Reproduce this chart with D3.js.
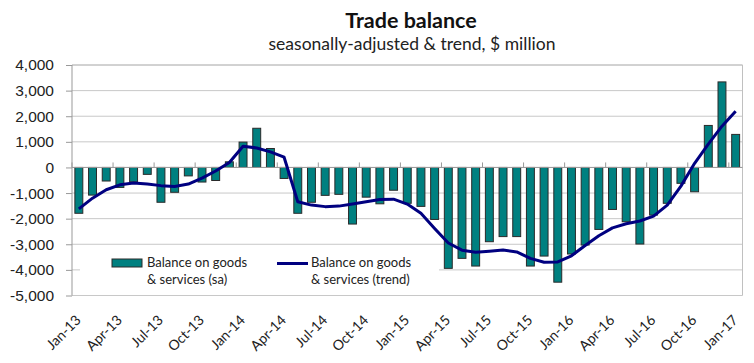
<!DOCTYPE html>
<html>
<head>
<meta charset="utf-8">
<script src="https://cdn.jsdelivr.net/npm/d3@7"></script>
<style>
  body { margin: 0; background: #fff; }
  svg { font-family: Lato, "Open Sans", sans-serif; }
  .grid line { stroke: #c8c8c8; stroke-width: 1; }
  .y-axis path { display: none; }
  .y-axis line { stroke: #999; }
  .y-axis text { font-size: 15.5px; fill: #222; }
  .x-label { font-size: 14px; fill: #222; }
  .legend text { font-size: 13px; fill: #222; }
</style>
</head>
<body>
<svg></svg>
<script>
// monthly categories, Jan-13 .. Jan-17
const months = [
  "Jan-13","Feb-13","Mar-13","Apr-13","May-13","Jun-13","Jul-13","Aug-13","Sep-13","Oct-13","Nov-13","Dec-13",
  "Jan-14","Feb-14","Mar-14","Apr-14","May-14","Jun-14","Jul-14","Aug-14","Sep-14","Oct-14","Nov-14","Dec-14",
  "Jan-15","Feb-15","Mar-15","Apr-15","May-15","Jun-15","Jul-15","Aug-15","Sep-15","Oct-15","Nov-15","Dec-15",
  "Jan-16","Feb-16","Mar-16","Apr-16","May-16","Jun-16","Jul-16","Aug-16","Sep-16","Oct-16","Nov-16","Dec-16",
  "Jan-17"
]

// balance on goods & services, seasonally adjusted ($m)
const saValues = [
  -1790, -1080, -530, -780, -560, -270, -1360, -970, -330, -570, -510, 220,
  990, 1530, 740, -430, -1790, -1360, -1090, -1050, -2210, -1160, -1420, -890,
  -1400, -1520, -2030, -3940, -3550, -3850, -2900, -2700, -2700, -3850, -3460, -4480,
  -3380, -3030, -2420, -1640, -2120, -2990, -1860, -1400, -620, -950, 1640, 3340,
  1290
]

// balance on goods & services, trend ($m)
const trendValues = [
  -1620, -1200, -870, -680, -610, -650, -710, -740, -650, -420, -140, 190,
  830, 760, 610, 400, -1340, -1470, -1530, -1510, -1430, -1340, -1250, -1240,
  -1430, -1790, -2380, -2950, -3230, -3310, -3270, -3220, -3300, -3550, -3700, -3690,
  -3450, -3050, -2670, -2360, -2200, -2090, -1900, -1470, -730, 160, 910, 1610,
  2190
]

const tickLabels = ["Jan-13","Apr-13","Jul-13","Oct-13","Jan-14","Apr-14","Jul-14","Oct-14",
  "Jan-15","Apr-15","Jul-15","Oct-15","Jan-16","Apr-16","Jul-16","Oct-16","Jan-17"]
const yTicks = [4000, 3000, 2000, 1000, 0, -1000, -2000, -3000, -4000, -5000]

const svg = d3.select("svg")
    .attr("width", 754)
    .attr("height", 363)

const plotLeft = 72, plotRight = 742.5, plotTop = 65, plotBottom = 295.5

const x = d3.scaleBand()
    .domain(months)
    .range([plotLeft, plotRight])
    .paddingInner(0.42)
    .paddingOuter(0.21)

const y = d3.scaleLinear()
    .domain([-5000, 4000])
    .range([plotBottom, plotTop])

const step = (plotRight - plotLeft) / months.length
const fmt = d => d3.format(",")(d).replace("\u2212", "-")

// titles
svg.append("text")
    .attr("x", 411).attr("y", 27.5)
    .attr("text-anchor", "middle")
    .style("font-size", "21.5px")
    .style("font-weight", "bold")
    .style("fill", "#111")
    .text("Trade balance")

svg.append("text")
    .attr("x", 412).attr("y", 50)
    .attr("text-anchor", "middle")
    .style("font-size", "17.5px")
    .style("fill", "#222")
    .text("seasonally-adjusted & trend, $ million")

// gridlines
svg.append("g")
    .attr("class", "grid")
    .selectAll("line")
    .data(yTicks)
    .enter()
    .append("line")
    .attr("x1", plotLeft).attr("x2", plotRight)
    .attr("y1", d => y(d)).attr("y2", d => y(d))

// plot border (top / right)
svg.append("path")
    .attr("d", `M${plotLeft},${plotTop}H${plotRight}V${plotBottom}`)
    .attr("fill", "none")
    .attr("stroke", "#c0c0c0")

// y axis
svg.append("g")
    .attr("class", "y-axis")
    .attr("transform", `translate(${plotLeft},0)`)
    .call(d3.axisLeft(y).tickValues(yTicks).tickFormat(fmt).tickSize(6).tickPadding(12))

svg.append("line")
    .attr("x1", plotLeft).attr("x2", plotLeft)
    .attr("y1", plotTop).attr("y2", plotBottom)
    .attr("stroke", "#999")

// legend box (white, hides gridlines)
svg.append("rect")
    .attr("x", 80).attr("y", 249)
    .attr("width", 359).attr("height", 43)
    .attr("fill", "#fff")

// bars
svg.append("g")
    .selectAll("rect")
    .data(saValues)
    .enter()
    .append("rect")
    .attr("x", (d, i) => x(months[i]))
    .attr("y", d => y(Math.max(0, d)))
    .attr("width", x.bandwidth())
    .attr("height", d => Math.abs(y(d) - y(0)))
    .attr("fill", "#008080")
    .attr("stroke", "#2a2a2a")
    .attr("stroke-width", 1)

// zero line
svg.append("line")
    .attr("x1", plotLeft).attr("x2", plotRight)
    .attr("y1", y(0)).attr("y2", y(0))
    .attr("stroke", "#999")

// category ticks every 3 months
svg.append("g")
    .selectAll("line")
    .data(tickLabels)
    .enter()
    .append("line")
    .attr("x1", d => x(d) - (step - x.bandwidth()) / 2)
    .attr("x2", d => x(d) - (step - x.bandwidth()) / 2)
    .attr("y1", y(0) - 5).attr("y2", y(0))
    .attr("stroke", "#999")

// trend line
const line = d3.line()
    .x((d, i) => x(months[i]) + x.bandwidth() / 2)
    .y(d => y(d))

svg.append("path")
    .datum(trendValues)
    .attr("d", line)
    .attr("fill", "none")
    .attr("stroke", "#000080")
    .attr("stroke-width", 3)
    .attr("stroke-linejoin", "round")

// x labels
svg.append("g")
    .selectAll("text")
    .data(tickLabels)
    .enter()
    .append("text")
    .attr("class", "x-label")
    .attr("text-anchor", "end")
    .attr("transform", d => `translate(${x(d) + x.bandwidth() / 2 + 3}, 321) rotate(-45)`)
    .text(d => d)

// legend
const legend = svg.append("g").attr("class", "legend")

legend.append("rect")
    .attr("x", 112).attr("y", 259)
    .attr("width", 30).attr("height", 8)
    .attr("fill", "#008080")
    .attr("stroke", "#2a2a2a")

legend.append("text").attr("x", 147).attr("y", 267).text("Balance on goods")
legend.append("text").attr("x", 147).attr("y", 284).text("& services (sa)")

legend.append("line")
    .attr("x1", 277).attr("x2", 308)
    .attr("y1", 263.5).attr("y2", 263.5)
    .attr("stroke", "#000080")
    .attr("stroke-width", 3)

legend.append("text").attr("x", 311).attr("y", 267).text("Balance on goods")
legend.append("text").attr("x", 311).attr("y", 284).text("& services (trend)")
</script>
</body>
</html>
